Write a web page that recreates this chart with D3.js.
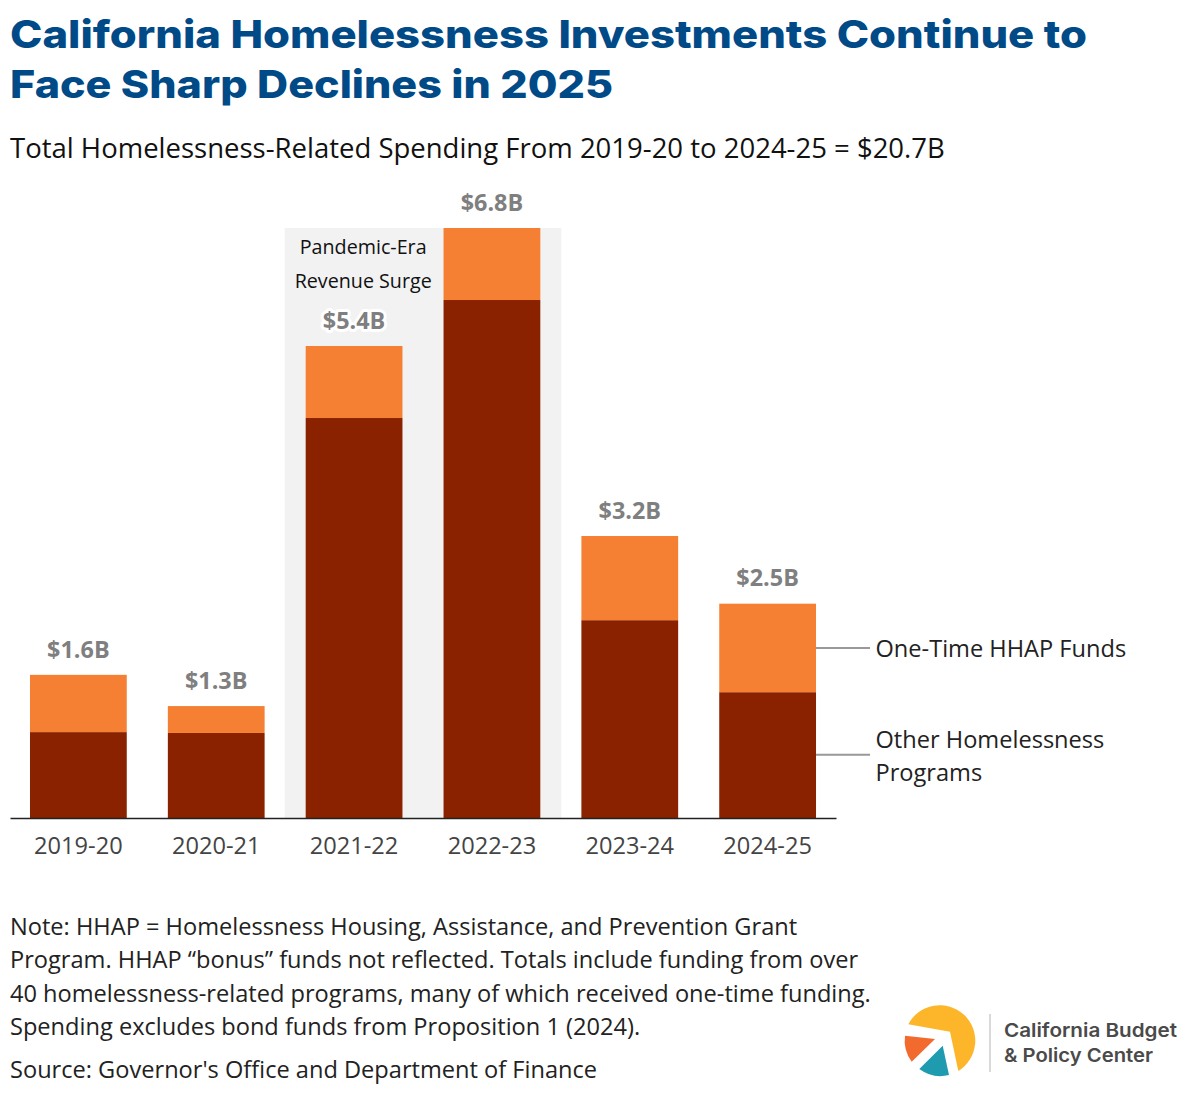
<!DOCTYPE html>
<html>
<head>
<meta charset="utf-8">
<script src="https://cdn.jsdelivr.net/npm/d3@7"></script>
<style>
  body { margin: 0; background: #fff; }
  svg { display: block; }
  text { font-family: "Open Sans", sans-serif; }
</style>
</head>
<body>
<div id="chart"></div>
<script>
// Chart values ($ billions)
const years = ["2019-20", "2020-21", "2021-22", "2022-23", "2023-24", "2024-25"];
const otherPrograms = [0.99, 0.98, 4.61, 5.97, 2.28, 1.45];
const hhapFunds = [0.66, 0.31, 0.83, 0.83, 0.97, 1.02];
const totalLabels = ["$1.6B", "$1.3B", "$5.4B", "$6.8B", "$3.2B", "$2.5B"];
const surgeYears = ["2021-22", "2022-23"];
const seriesKeys = ["other", "hhap"];

const titleLines = [
  "California Homelessness Investments Continue to",
  "Face Sharp Declines in 2025",
];
const subtitle = "Total Homelessness-Related Spending From 2019-20 to 2024-25 = $20.7B";
const surgeLines = ["Pandemic-Era", "Revenue Surge"];
const noteLines = [
  "Note: HHAP = Homelessness Housing, Assistance, and Prevention Grant",
  "Program. HHAP \u201cbonus\u201d funds not reflected. Totals include funding from over",
  "40 homelessness-related programs, many of which received one-time funding.",
  "Spending excludes bond funds from Proposition 1 (2024).",
];
const sourceLine = "Source: Governor's Office and Department of Finance";

const width = 1200;
const height = 1096;
const baseline = 818;
const barTop = 228;

const color = d3.scaleOrdinal().domain(seriesKeys).range(["#8a2200", "#f58033"]);

const svg = d3
  .select("#chart")
  .append("svg")
  .attr("width", width)
  .attr("height", height);

const xScale = d3
  .scaleBand()
  .domain(years)
  .range([10, 836])
  .paddingInner(0.298)
  .paddingOuter(0.145);

const yScale = d3.scaleLinear().domain([0, 6.8]).range([baseline, barTop]);

// Build stacked rows from the arrays
const rows = years.map((year, i) => ({
  year,
  other: otherPrograms[i],
  hhap: hhapFunds[i],
  label: totalLabels[i],
}));
const stacked = d3.stack().keys(seriesKeys)(rows);

// Title and subtitle (stretched, the original face is wider than Inter)
const titleWidths = [1077, 603];
svg
  .selectAll(".title")
  .data(titleLines)
  .enter()
  .append("text")
  .attr("class", "title")
  .attr("x", 10)
  .attr("y", (d, i) => 48 + i * 49.5)
  .attr("textLength", (d, i) => titleWidths[i])
  .attr("lengthAdjust", "spacingAndGlyphs")
  .style("font-family", "Inter, sans-serif")
  .style("font-weight", 800)
  .style("font-size", "38.5px")
  .style("fill", "#004a87")
  .text((d) => d);

svg
  .append("text")
  .attr("x", 10)
  .attr("y", 157.5)
  .style("font-size", "27.5px")
  .style("fill", "#111")
  .text(subtitle);

// Grey band behind the surge years
const surgeLeft = xScale(surgeYears[0]) - 21;
const surgeRight = xScale(surgeYears[1]) + xScale.bandwidth() + 21;
svg
  .append("rect")
  .attr("x", surgeLeft)
  .attr("y", yScale(6.8))
  .attr("width", surgeRight - surgeLeft)
  .attr("height", baseline - yScale(6.8))
  .style("fill", "#f2f2f2");

svg
  .selectAll(".surge-label")
  .data(surgeLines)
  .enter()
  .append("text")
  .attr("class", "surge-label")
  .attr("x", surgeLeft + 78.5)
  .attr("y", (d, i) => 254 + i * 34)
  .attr("text-anchor", "middle")
  .style("font-size", "19.7px")
  .style("fill", "#111")
  .text((d) => d);

// Stacked bars
svg
  .selectAll(".series")
  .data(stacked)
  .enter()
  .append("g")
  .attr("class", "series")
  .style("fill", (d) => color(d.key))
  .selectAll("rect")
  .data((d) => d)
  .enter()
  .append("rect")
  .attr("x", (d) => xScale(d.data.year))
  .attr("y", (d) => yScale(d[1]))
  .attr("width", xScale.bandwidth())
  .attr("height", (d) => yScale(d[0]) - yScale(d[1]));

// Total labels
svg
  .selectAll(".total")
  .data(rows)
  .enter()
  .append("text")
  .attr("class", "total")
  .attr("x", (d) => xScale(d.year) + xScale.bandwidth() / 2)
  .attr("y", (d) => yScale(d.other + d.hhap) - 17.3)
  .attr("text-anchor", "middle")
  .style("font-size", "23.4px")
  .style("font-weight", 700)
  .style("fill", "#7f7f7f")
  .style("paint-order", "stroke")
  .style("stroke", (d) => (surgeYears.includes(d.year) && d.other < 5 ? "#fff" : "none"))
  .style("stroke-width", 6)
  .style("stroke-linejoin", "round")
  .text((d) => d.label);

// X axis
const xAxis = d3.axisBottom(xScale).tickSize(0).tickPadding(19);
const axisG = svg
  .append("g")
  .attr("transform", `translate(0, ${baseline})`)
  .call(xAxis);
axisG.select(".domain").style("stroke", "#222").style("stroke-width", 1.6);
axisG
  .selectAll("text")
  .style("font-family", '"Open Sans", sans-serif')
  .style("font-size", "23.6px")
  .style("fill", "#444");

// Direct labels on the last bar
const lastRight = xScale(years[5]) + xScale.bandwidth();
const leaderY = [yScale(1.96), yScale(0.73)];
svg
  .selectAll(".leader")
  .data(leaderY)
  .enter()
  .append("line")
  .attr("class", "leader")
  .attr("x1", lastRight)
  .attr("x2", lastRight + 54)
  .attr("y1", (d) => d)
  .attr("y2", (d) => d)
  .style("stroke", "#999")
  .style("stroke-width", 2);

const legendText = [
  { text: "One-Time HHAP Funds", y: 657 },
  { text: "Other Homelessness", y: 748 },
  { text: "Programs", y: 781 },
];
svg
  .selectAll(".legend-label")
  .data(legendText)
  .enter()
  .append("text")
  .attr("class", "legend-label")
  .attr("x", 875.5)
  .attr("y", (d) => d.y)
  .style("font-size", "23.6px")
  .style("fill", "#222")
  .text((d) => d.text);

// Note and source
svg
  .selectAll(".note")
  .data(noteLines)
  .enter()
  .append("text")
  .attr("class", "note")
  .attr("x", 10)
  .attr("y", (d, i) => 935 + i * 33.4)
  .style("font-size", "23.6px")
  .style("fill", "#222")
  .text((d) => d);

svg
  .append("text")
  .attr("x", 10)
  .attr("y", 1078)
  .style("font-size", "23.6px")
  .style("fill", "#222")
  .text(sourceLine);

// Logo
const logo = svg.append("g");
logo
  .append("path")
  .attr("d", "M908.3,1024.3 A35.5,35.5 0 1 1 958.3,1071 L950,1031.7 Z")
  .style("fill", "#fdb52a");
logo
  .append("path")
  .attr("d", "M905,1035.7 L935,1039 L911.7,1061.7 A35.5,35.5 0 0 1 905,1035.7 Z")
  .style("fill", "#f26a2e");
logo
  .append("path")
  .attr("d", "M919.3,1069 L942.7,1045.7 L949,1075 A35.5,35.5 0 0 1 919.3,1069 Z")
  .style("fill", "#1f9bb0");
logo
  .append("line")
  .attr("x1", 990)
  .attr("x2", 990)
  .attr("y1", 1014)
  .attr("y2", 1072)
  .style("stroke", "#ccc")
  .style("stroke-width", 1.5);
const logoWidths = [173, 149];
logo
  .selectAll("text")
  .data(["California Budget", "& Policy Center"])
  .enter()
  .append("text")
  .attr("x", 1004)
  .attr("y", (d, i) => 1037 + i * 24.5)
  .attr("textLength", (d, i) => logoWidths[i])
  .attr("lengthAdjust", "spacingAndGlyphs")
  .style("font-family", "Inter, sans-serif")
  .style("font-weight", 600)
  .style("font-size", "19px")
  .style("fill", "#4a4a4a")
  .text((d) => d);
</script>
</body>
</html>
